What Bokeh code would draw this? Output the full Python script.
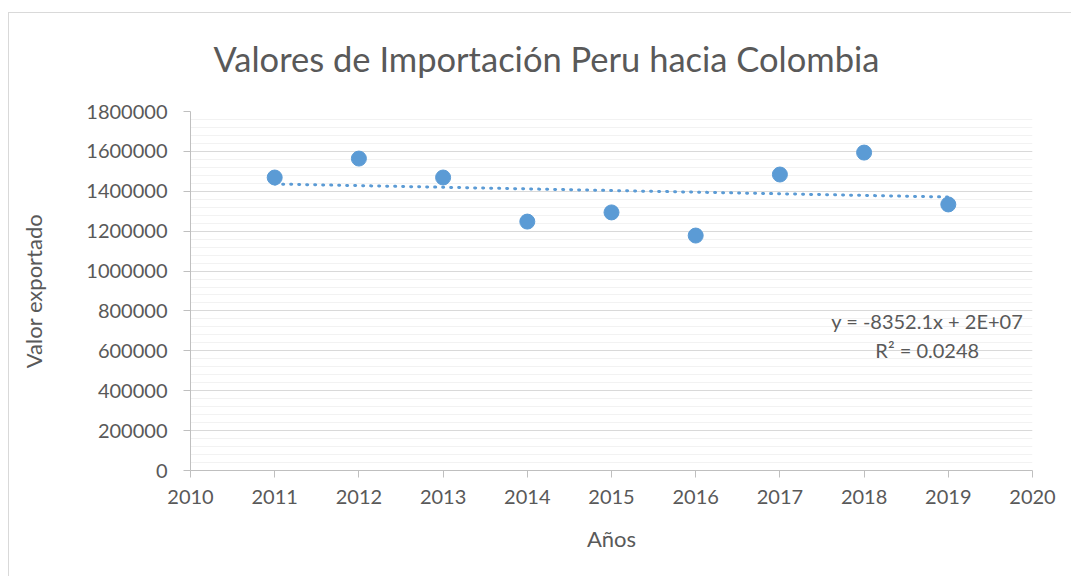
import numpy as np
from bokeh.plotting import figure
from bokeh.models import (ColumnDataSource, SingleIntervalTicker, BasicTickFormatter,
                          Label, Range1d)
from bokeh.embed import file_html
from bokeh.resources import INLINE

# ---- data ----
years = [2011, 2012, 2013, 2014, 2015, 2016, 2017, 2018, 2019]
values = [1469000, 1564000, 1469000, 1248000, 1294000, 1178000, 1484000, 1594000, 1334000]
title_text = "Valores de Importación Peru hacia Colombia"
x_label = "Años"
y_label = "Valor exportado"
eq_text = "y = -8352.1x + 2E+07"
r2_text = "R² = 0.0248"

FONT = "Lato"
TXT = "#595959"
BLUE = "#5B9BD5"

p = figure(width=1071, height=576, output_backend="svg", toolbar_location=None,
           x_range=Range1d(2010, 2020), y_range=Range1d(0, 1800000),
           min_border_left=190, min_border_right=39, min_border_top=111,
           min_border_bottom=106, background_fill_color="white",
           border_fill_color=None, outline_line_color=None)
# thin chart-area border (top and left edges) drawn behind the transparent canvas
p.styles = {"background": "linear-gradient(#D9D9D9, #D9D9D9) 8px 12px / 100% 1px no-repeat, "
                          "linear-gradient(#D9D9D9, #D9D9D9) 8px 12px / 1px 100% no-repeat, white"}

p.title.text = title_text
p.title.text_font = FONT
p.title.text_font_size = "34.5px"
p.title.text_font_style = "normal"
p.title.text_color = TXT
p.title.align = "left"
p.title.offset = 23
p.title.standoff = 66

# axes
p.xaxis.ticker = SingleIntervalTicker(interval=1, num_minor_ticks=0)
p.yaxis.ticker = SingleIntervalTicker(interval=200000, num_minor_ticks=5)
p.yaxis.formatter = BasicTickFormatter(use_scientific=False)
p.xaxis.formatter = BasicTickFormatter(use_scientific=False)
for ax in (p.xaxis, p.yaxis):
    ax.axis_line_color = "#BFBFBF"
    ax.axis_line_width = 1
    ax.major_tick_line_color = "#BFBFBF"
    ax.major_tick_out = 7
    ax.major_tick_in = 0
    ax.minor_tick_line_color = None
    ax.major_label_text_font = FONT
    ax.major_label_text_font_size = "20px"
    ax.major_label_text_color = TXT
    ax.axis_label_text_font = FONT
    ax.axis_label_text_font_size = "22px"
    ax.axis_label_text_font_style = "normal"
    ax.axis_label_text_color = TXT
p.xaxis.axis_label = x_label
p.yaxis.axis_label = y_label
p.xaxis.major_label_standoff = 12
p.yaxis.major_label_standoff = 16
p.xaxis.axis_label_standoff = 18
p.yaxis.axis_label_standoff = 36

p.xgrid.grid_line_color = None
p.ygrid.grid_line_color = "#D9D9D9"
p.ygrid.grid_line_width = 1
p.ygrid.minor_grid_line_color = "#F2F2F2"
p.ygrid.minor_grid_line_width = 1

# trendline computed from data
coef = np.polyfit(years, values, 1)
tx = [years[0], years[-1]]
ty = [coef[0] * x + coef[1] for x in tx]
p.line(tx, ty, line_color=BLUE, line_width=3, line_dash="1 7", line_cap="round")

src = ColumnDataSource(dict(x=years, y=values))
p.scatter("x", "y", source=src, size=15, fill_color=BLUE, line_color=BLUE)

p.add_layout(Label(x=2018.75, y=752000, text=eq_text, text_align="center",
                   text_baseline="middle", text_font=FONT, text_font_size="20px",
                   text_color=TXT))
p.add_layout(Label(x=2018.75, y=602000, text=r2_text, text_align="center",
                   text_baseline="middle", text_font=FONT, text_font_size="20px",
                   text_color=TXT))

open("out.html", "w").write(file_html(p, INLINE))
